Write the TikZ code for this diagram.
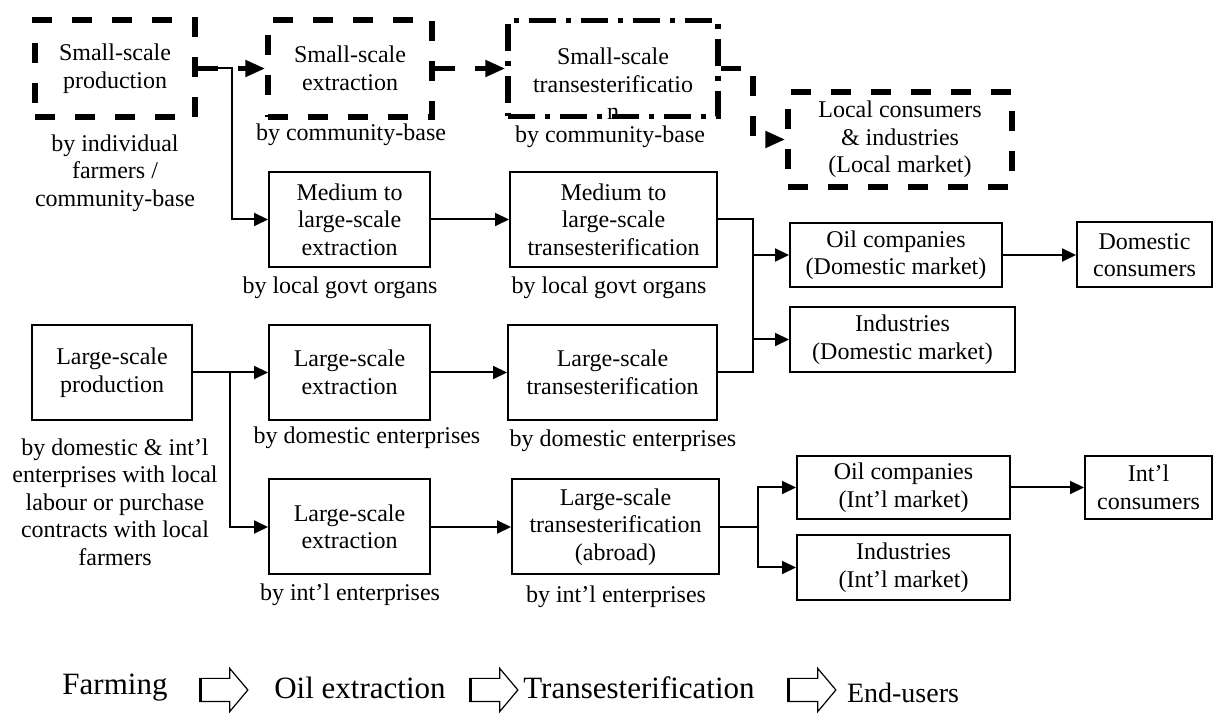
\documentclass[tikz,border=0pt]{standalone}
\usepackage{fontspec}
\setmainfont{Liberation Serif}
\usetikzlibrary{arrows.meta}
\usetikzlibrary{shapes.arrows}

\begin{document}
\begin{tikzpicture}
[
    x=0.5pt, y=-0.5pt,
    font=\fontsize{12}{13.75}\selectfont,
    sb/.style={draw, line width=1pt, align=center, inner sep=0pt},        % sb = solid box
    db/.style={draw, line width=2.75pt, dash pattern=on 10pt off 10pt, align=center, inner sep=0pt}, % db = dashed box
    ddb/.style={draw, line width=2.75pt, dash pattern=on 13.5pt off 5pt on 2.5pt off 5pt, inner sep=0pt}, % ddb = dash-dot box
    lb/.style={align=center, inner sep=0pt},  % lb = label under a box
    fl/.style={line width=1pt, -{Triangle[length=7pt,width=6.5pt]}}, % fl = flow line
    dfl/.style={line width=2.75pt, dash pattern=on 10pt off 10pt, -{Triangle[length=10pt,width=8pt]}}, % dfl = dashed flow line
    lt/.style={font=\fontsize{15.5}{18}\selectfont, inner sep=0pt}, % lt = legend text
    la/.style={draw, single arrow, minimum height=24pt, single arrow head extend=5pt, single arrow tip angle=100, inner sep=0pt, line width=0.6pt}, % la = legend arrow
]
\useasboundingbox (0,0) rectangle (1232,715);

% small-scale chain
\node [db, minimum width=80pt, minimum height=48.5pt] (sprod) at (115,68.5) {Small-scale\\production};
\node [db, minimum width=82pt, minimum height=48.5pt] (sext) at (350,68.5) {Small-scale\\extraction};
\node [ddb, minimum width=105pt, minimum height=48pt] (strans) at (613,68.5) {};
\node [lb] (stransT) at (613,84) {Small-scale\\transesterificatio\\n};
\node [db, minimum width=112pt, minimum height=47.5pt] (local) at (900,139.5) {Local consumers\\\& industries\\(Local market)};

\node [lb] (sprodL) at (115,173) {by individual\\farmers /\\community-base};
\node [lb] (sextL) at (351,135) {by community-base};
\node [lb] (stransL) at (610,137) {by community-base};

% medium and large-scale chains
\node [sb, minimum width=80.5pt, minimum height=47.5pt] (mext) at (349.5,219.5) {Medium to\\large-scale\\extraction};
\node [sb, minimum width=103.5pt, minimum height=47.5pt] (mtrans) at (613.5,219.5) {Medium to\\large-scale\\transesterification};
\node [sb, minimum width=80pt, minimum height=47.5pt] (lprod) at (112,372.5) {Large-scale\\production};
\node [sb, minimum width=80.5pt, minimum height=47.5pt] (lext) at (349.5,372.5) {Large-scale\\extraction};
\node [sb, minimum width=104.5pt, minimum height=47.5pt] (ltrans) at (612.5,372.5) {Large-scale\\transesterification};
\node [sb, minimum width=80.5pt, minimum height=47.5pt] (iext) at (349.5,527) {Large-scale\\extraction};
\node [sb, minimum width=103.5pt, minimum height=47.5pt] (itrans) at (615.5,527) {Large-scale\\transesterification\\(abroad)};

\node [lb] (mextL) at (340,288) {by local govt organs};
\node [lb] (mtransL) at (609,288) {by local govt organs};
\node [lb] (lprodL) at (115,502) {by domestic \& int’l\\enterprises with local\\labour or purchase\\contracts with local\\farmers};
\node [lb] (lextL) at (367,438) {by domestic enterprises};
\node [lb] (ltransL) at (623,441) {by domestic enterprises};
\node [lb] (iextL) at (350,595) {by int’l enterprises};
\node [lb] (itransL) at (616,597) {by int’l enterprises};

% end-users
\node [sb, minimum width=106pt, minimum height=32pt] (oildom) at (896,255) {Oil companies\\(Domestic market)};
\node [sb, minimum width=67.5pt, minimum height=32.5pt] (domcons) at (1144.5,255) {Domestic\\consumers};
\node [sb, minimum width=112.5pt, minimum height=32.5pt] (inddom) at (902.5,339.5) {Industries\\(Domestic market)};
\node [sb, minimum width=106.5pt, minimum height=31.5pt] (oilint) at (903.5,487.5) {Oil companies\\(Int’l market)};
\node [sb, minimum width=63.5pt, minimum height=31.5pt] (intcons) at (1148.5,487.5) {Int’l\\consumers};
\node [sb, minimum width=106.5pt, minimum height=32.5pt] (indint) at (903.5,567.5) {Industries\\(Int’l market)};

% junctions
\coordinate (j1) at (232,68.5);
\coordinate (j2) at (753,68.5);
\coordinate (j3) at (753,219.5);
\coordinate (j4) at (753,372.5);
\coordinate (j5) at (230,372.5);
\coordinate (j6) at (758,527);

% connectors
\draw [dfl] (sprod) -- (sext);
\draw [dfl] (sext) -- (strans);
\draw [dfl] (strans.east) -- (j2) |- (local.west);
\draw [fl] (sprod.east) -- (j1) |- (mext.west);

\draw [fl] (mext) -- (mtrans);
\draw [line width=1pt] (mtrans.east) -- (j3) -- (j4) -- (ltrans.east);
\draw [fl] (j3 |- oildom.west) -- (oildom.west);
\draw [fl] (j3 |- inddom.west) -- (inddom.west);
\draw [fl] (lprod) -- (lext);
\draw [fl] (j5) |- (iext.west);
\draw [fl] (lext) -- (ltrans);
\draw [fl] (iext) -- (itrans);
\draw [line width=1pt] (itrans.east) -- (j6);
\draw [fl] (j6) |- (oilint.west);
\draw [fl] (j6) |- (indint.west);
\draw [fl] (oildom) -- (domcons);
\draw [fl] (oilint) -- (intcons);

% legend
\node [lt] (farm) at (115,688) {Farming};
\node [la] (a1) at (219,690) {\rule{0pt}{11pt}};
\node [lt] (oil) at (360,688) {Oil extraction};
\node [la] (a2) at (489,690) {\rule{0pt}{11pt}};
\node [lt] (tra) at (639,688) {Transesterification};
\node [la] (a3) at (807,690) {\rule{0pt}{11pt}};
\node [lt, font=\fontsize{14}{16}\selectfont] (endu) at (903,693) {End-users};
\foreach \a in {a1,a2,a3}
    \draw [line width=1.6pt] ([xshift=0.8pt]\a.before tail) -- ([xshift=0.8pt]\a.after tail);
\end{tikzpicture}
\end{document}
